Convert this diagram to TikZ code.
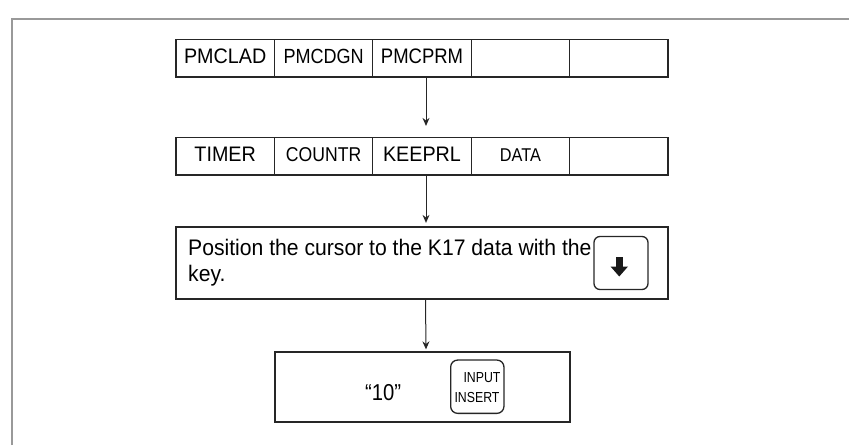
\documentclass[tikz,border=0pt]{standalone}
\usepackage{fontspec}
\setmainfont{Liberation Sans}
\newfontfamily\fa[FakeStretch=0.94]{Liberation Sans}
\newfontfamily\fb[FakeStretch=0.88]{Liberation Sans}
\newfontfamily\narrowfont[FakeStretch=0.85]{Liberation Sans}
\usetikzlibrary{calc,arrows.meta}
\begin{document}
\begin{tikzpicture}[x=1pt,y=-1pt,
  cell/.style={draw=black!85, line width=1.3pt, minimum width=98.4pt, minimum height=37.5pt,
    inner sep=0pt, text height=14pt, text depth=4.6pt},
  box/.style={draw=black!85, line width=1.3pt, inner sep=0pt},
  keybox/.style={draw=black!85, line width=1.3pt, rounded corners=6pt, inner sep=0pt},
  arr/.style={draw=black!85, line width=1pt, -{Stealth[length=8pt,width=7pt]}},
  lbl/.style={inner sep=0pt, anchor=base west},
  big/.style={font=\fa\fontsize{22.5}{26}\selectfont}
]
\useasboundingbox (0,0) rectangle (849,445);
% outer frame
\draw[black!40, line width=2pt] (12,445) |- (849,19);
% row 1
\node[cell, font=\fa\fontsize{21}{24}\selectfont] (a1) at (225.2,58.3) {PMCLAD};
\node[cell, font=\fb\fontsize{20.5}{24}\selectfont] (a2) at (323.6,58.3) {PMCDGN};
\node[cell, font=\fb\fontsize{21}{24}\selectfont] (a3) at (422.0,58.3) {PMCPRM};
\node[cell] (a4) at (520.4,58.3) {};
\node[cell] (a5) at (618.8,58.3) {};
% row 2
\node[cell, font=\fa\fontsize{21}{24}\selectfont] (b1) at (225.2,156.3) {TIMER};
\node[cell, font=\fb\fontsize{20}{24}\selectfont] (b2) at (323.6,156.3) {COUNTR};
\node[cell, font=\fa\fontsize{21}{24}\selectfont] (b3) at (422.0,156.3) {KEEPRL};
\node[cell, font=\fb\fontsize{18.5}{24}\selectfont] (b4) at (520.4,156.3) {DATA};
\node[cell] (b5) at (618.8,156.3) {};
% box 3
\node[box, minimum width=492pt, minimum height=72pt] (c) at (422,263) {};
\node[lbl, big] (t1) at (188,255) {Position the cursor to the K17 data with the};
\node[lbl, big] (t2) at (188,281) {key.};
\node[keybox, minimum width=54pt, minimum height=53pt] (k1) at (621,263) {};
\fill[black!90] ($(k1.center)+(-5,-6.5)$) rectangle ($(k1.center)+(1.5,4)$);
\fill[black!90] ($(k1.center)+(-10.5,3.5)$) -- ($(k1.center)+(7,3.5)$) -- ($(k1.center)+(-1.75,13.5)$) -- cycle;
% box 4
\node[box, minimum width=295pt, minimum height=70pt] (d) at (422.5,387) {};
\node[lbl, font=\fb\fontsize{23}{26}\selectfont] (q) at (365,400) {“10”};
\node[keybox, rounded corners=7pt, minimum width=53.3pt, minimum height=53.3pt] (k2) at (477.3,386.7) {};
\node[inner sep=0pt, anchor=base east, font=\narrowfont\fontsize{14.5}{16}\selectfont] (in) at (500.7,382.3) {INPUT};
\node[inner sep=0pt, anchor=base west, font=\narrowfont\fontsize{14.5}{16}\selectfont] (ins) at (454.3,402.7) {INSERT};
% arrows
\draw[arr] ($(a3.south)+(4,0)$) -- ($(b3.north)+(4,-11)$);
\draw[arr] ($(b3.south)+(4,0)$) -- ($(c.north)+(4,-3.5)$);
\draw[arr] ($(c.south)+(3.5,0)$) -- ($(d.north)+(3.5,-2)$);
\end{tikzpicture}
\end{document}
